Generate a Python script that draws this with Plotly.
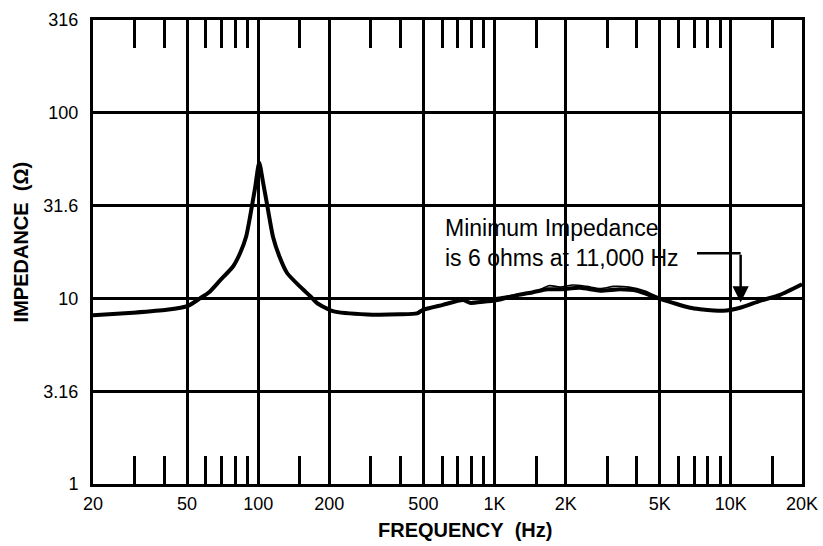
import numpy as np
import plotly.graph_objects as go

# ---------------- data ----------------
freq_hz = [20, 29.5, 41, 50.5, 56.7, 62, 69, 78.4, 83.8, 89, 92.4, 96.9, 101,
           104.9, 108.9, 115.5, 123, 132.5, 150, 165.7, 177, 207, 289, 398, 470,
           498, 605, 736, 787, 894, 1026, 1245, 1456, 1668, 1894, 2302, 2798,
           3399, 4010, 4873, 5690, 6720, 7410, 9270, 10940, 13300, 16160, 20000]
impedance_ohm = [8.1, 8.37, 8.68, 9.12, 10.0, 10.8, 12.5, 14.9, 17.5, 21.6, 27.6,
                 39.0, 54.0, 42.0, 32.4, 21.5, 16.8, 13.7, 11.6, 10.3, 9.46, 8.54,
                 8.19, 8.2, 8.3, 8.68, 9.23, 9.8, 9.46, 9.58, 9.8, 10.4, 10.8, 11.2,
                 11.2, 11.4, 11.0, 11.2, 11.0, 10.06, 9.46, 8.9, 8.75, 8.57, 8.9,
                 9.7, 10.45, 11.9]

# thin secondary trace visible in the mid band
thin_freq_hz = [700, 800, 900, 1030, 1245, 1500, 1700, 1900, 2150, 2450, 2800, 3200, 3700, 4300, 4900]
thin_impedance_ohm = [9.9, 9.95, 10.0, 10.1, 10.5, 10.9, 11.7, 11.5, 11.8, 11.6, 11.3, 11.6, 11.5, 11.0, 10.2]

x_major_vals = [20, 50, 100, 200, 500, 1000, 2000, 5000, 10000, 20000]
x_major_text = ["20", "50", "100", "200", "500", "1K", "2K", "5K", "10K", "20K"]
x_minor_vals = [30, 40, 60, 70, 80, 90, 150, 300, 400, 600, 700, 800, 900,
                1500, 3000, 4000, 6000, 7000, 8000, 9000, 15000]
y_major_vals = [1, 3.16, 10, 31.6, 100, 316]
y_major_text = ["1", "3.16", "10", "31.6", "100", "316"]

note_text = "Minimum Impedance<br>is 6 ohms at 11,000 Hz"
note_text_hz = 605
note_text_ohm = 20.0
arrow_start_hz = 7190
arrow_hz = 11000
arrow_top_ohm = 17.5
arrow_tip_ohm = 9.5

FONT = "Liberation Sans, Arial, Helvetica, sans-serif"

fig = go.Figure()
fig.add_trace(go.Scatter(x=thin_freq_hz, y=thin_impedance_ohm, mode="lines",
                         line=dict(color="black", width=1.6, shape="spline", smoothing=0.8),
                         hoverinfo="skip", showlegend=False))
fig.add_trace(go.Scatter(x=freq_hz, y=impedance_ohm, mode="lines",
                         line=dict(color="black", width=4, shape="spline", smoothing=0.6),
                         showlegend=False))
# elbow of the arrow
fig.add_trace(go.Scatter(x=[arrow_start_hz, arrow_hz], y=[arrow_top_ohm, arrow_top_ohm],
                         mode="lines", line=dict(color="black", width=2.5),
                         hoverinfo="skip", showlegend=False))

fig.add_annotation(x=np.log10(arrow_hz), y=np.log10(arrow_tip_ohm),
                   ax=np.log10(arrow_hz), ay=np.log10(arrow_top_ohm),
                   xref="x", yref="y", axref="x", ayref="y",
                   showarrow=True, arrowhead=2, arrowsize=1.3, arrowwidth=2.5,
                   arrowcolor="black", text="")
fig.add_annotation(x=np.log10(note_text_hz), y=np.log10(note_text_ohm), xref="x", yref="y",
                   text=note_text, showarrow=False, xanchor="left", yanchor="middle",
                   align="left", font=dict(family=FONT, size=23, color="black"))

fig.add_annotation(x=0.524, y=-0.1, xref="paper", yref="paper",
                   text="<b>FREQUENCY\u00a0\u00a0(Hz)</b>", showarrow=False,
                   xanchor="center", yanchor="middle",
                   font=dict(family=FONT, size=20, color="black"))
fig.add_annotation(x=-0.102, y=0.52, xref="paper", yref="paper",
                   text="<b>IMPEDANCE\u00a0\u00a0(Ω)</b>", showarrow=False, textangle=-90,
                   xanchor="center", yanchor="middle",
                   font=dict(family=FONT, size=20, color="black"))

fig.update_xaxes(type="log", range=[np.log10(20), np.log10(20000)],
                 tickvals=x_major_vals, ticktext=x_major_text,
                 showgrid=True, gridcolor="black", gridwidth=3,
                 showline=True, linecolor="black", linewidth=3, mirror="ticks",
                 ticks="", ticklabelstandoff=1, automargin=False,
                 tickfont=dict(family=FONT, size=18, color="black"),
                 minor=dict(tickvals=x_minor_vals, ticks="inside", ticklen=28,
                            tickwidth=2.5, tickcolor="black", showgrid=False),
                 zeroline=False)
fig.update_yaxes(type="log", range=[0, np.log10(316)],
                 tickvals=y_major_vals, ticktext=y_major_text,
                 showgrid=True, gridcolor="black", gridwidth=3,
                 showline=True, linecolor="black", linewidth=3, mirror=True,
                 ticks="", ticklabelstandoff=8, automargin=False,
                 tickfont=dict(family=FONT, size=18, color="black"),
                 zeroline=False)

fig.update_layout(width=823, height=546, autosize=False,
                  margin=dict(l=93, r=21, t=20, b=62, autoexpand=False),
                  paper_bgcolor="white", plot_bgcolor="white",
                  showlegend=False)

fig.write_html("out.html", config={"displayModeBar": False},
               post_script="document.body.style.margin='0px';document.body.style.overflow='hidden';")
